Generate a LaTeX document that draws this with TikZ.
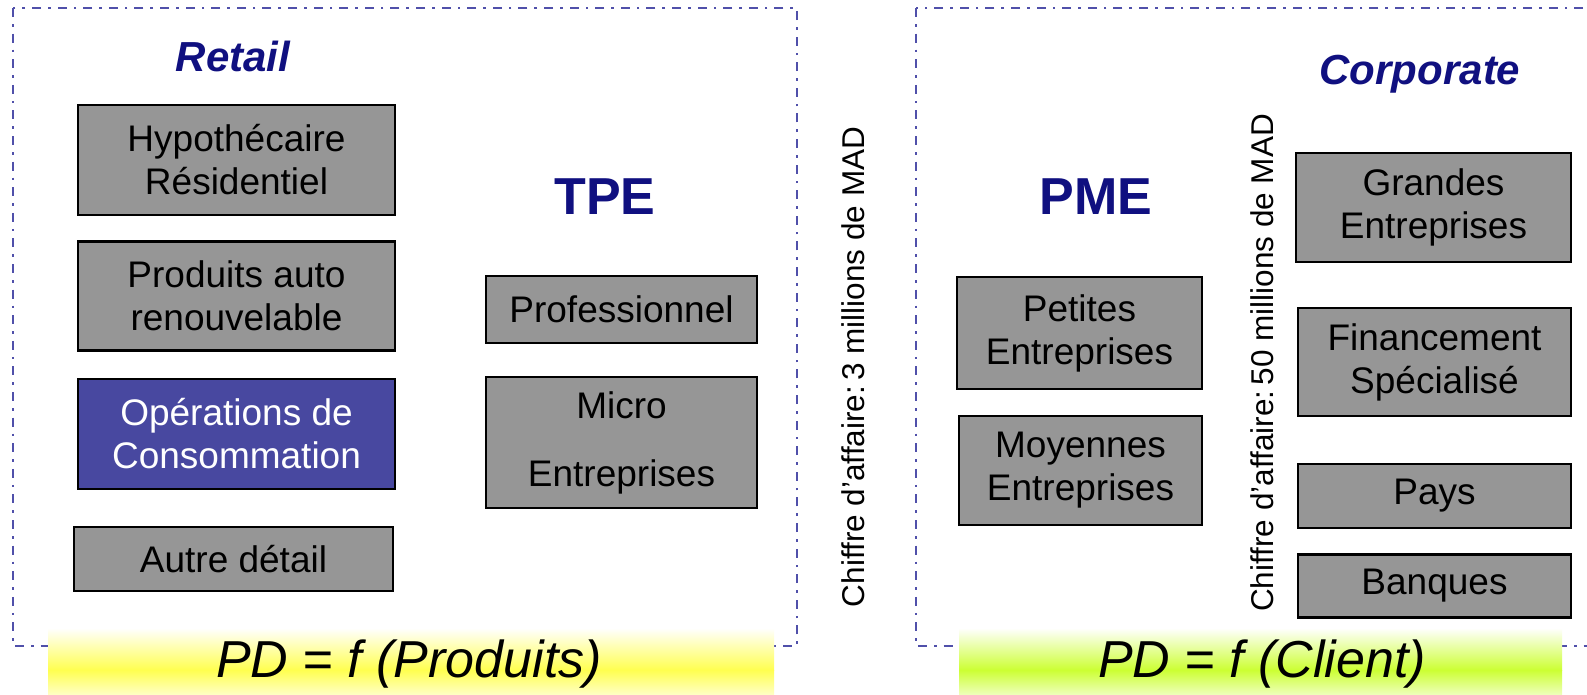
\documentclass[tikz,border=0pt]{standalone}
\usepackage{fontspec}
\setmainfont{Liberation Sans}
\definecolor{boxgray}{RGB}{150,150,150}
\definecolor{opsblue}{RGB}{72,72,160}
\definecolor{navy}{RGB}{16,16,128}
\definecolor{framecol}{RGB}{80,80,170}
\definecolor{bandyellow}{RGB}{255,255,80}
\definecolor{bandgreen}{RGB}{204,255,51}
\begin{document}
\begin{tikzpicture}[x=1pt,y=-1pt,
  box/.style={draw=black, line width=2.5pt, fill=boxgray, align=center, inner sep=0pt,
    font=\fontsize{37}{43}\selectfont, text=black},
  frame/.style={draw=framecol, line width=2.6pt, dash pattern=on 9pt off 7pt on 2.6pt off 7pt},
  heading/.style={text=navy, font=\fontsize{52}{60}\selectfont\bfseries},
  subheading/.style={text=navy, font=\fontsize{42}{48}\selectfont\bfseries\itshape},
  vlabel/.style={rotate=90, font=\fontsize{31.5}{36}\selectfont, text=black, inner sep=0pt},
  bandtext/.style={font=\fontsize{52}{60}\selectfont\itshape, text=black, inner sep=0pt}]
\useasboundingbox (0,0) rectangle (1587,694);
\fill[white] (0,0) rectangle (1587,694);
% frames
\draw[frame] (13,8) rectangle (797,646);
\draw[frame] (916,8) rectangle (1610,646);
% bands
\shade[top color=white, bottom color=bandyellow] (48,628) rectangle (774,670);
\shade[top color=bandyellow, bottom color=bandyellow!35] (48,670) rectangle (774,694);
\shade[top color=white, bottom color=bandgreen] (959,628) rectangle (1562,670);
\shade[top color=bandgreen, bottom color=bandgreen!35] (959,670) rectangle (1562,694);
\node[bandtext] (pdprod) at (409,664) {PD = f (Produits)};
\node[bandtext] (pdcli) at (1262,664) {PD = f (Client)};
% headings
\node[subheading] (retail) at (233,56) {Retail};
\node[subheading] (corp) at (1420,74) {Corporate};
\node[heading] (tpe) at (605,197) {TPE};
\node[heading] (pme) at (1096,197) {PME};
% left boxes
\node[box, minimum width=317pt, minimum height=110pt] (hyp) at (236.5,160) {Hypothécaire\\Résidentiel};
\node[box, minimum width=317pt, minimum height=109pt] (prod) at (236.5,296) {Produits auto\\renouvelable};
\node[box, minimum width=317pt, minimum height=110pt, fill=opsblue, text=white] (ops) at (236.5,434) {Opérations de\\Consommation};
\node[box, minimum width=319pt, minimum height=64pt] (autre) at (233.5,559) {Autre détail};
\node[box, minimum width=271pt, minimum height=67pt] (pro) at (621.5,309.5) {Professionnel};
\node[box, minimum width=271pt, minimum height=131pt] (micro) at (621.5,442.5) {Micro\\[25pt]Entreprises};
% vertical labels
\node[vlabel] (ca3) at (853,367) {Chiffre d’affaire:\,3 millions de MAD};
\node[vlabel] (ca50) at (1262,363) {Chiffre d’affaire:\,50 millions de MAD};
% right boxes
\node[box, minimum width=245pt, minimum height=112pt] (pet) at (1079.5,333) {Petites\\Entreprises};
\node[box, minimum width=243pt, minimum height=109pt] (moy) at (1080.5,470.5) {Moyennes\\Entreprises};
\node[box, minimum width=275pt, minimum height=109pt] (grand) at (1433.5,207.5) {Grandes\\Entreprises};
\node[box, minimum width=273pt, minimum height=108pt] (fin) at (1434.5,362) {Financement\\Spécialisé};
\node[box, minimum width=273pt, minimum height=64pt] (pays) at (1434.5,496) {Pays};
\node[box, minimum width=273pt, minimum height=63pt] (banq) at (1434.5,586) {Banques};
\end{tikzpicture}
\end{document}
